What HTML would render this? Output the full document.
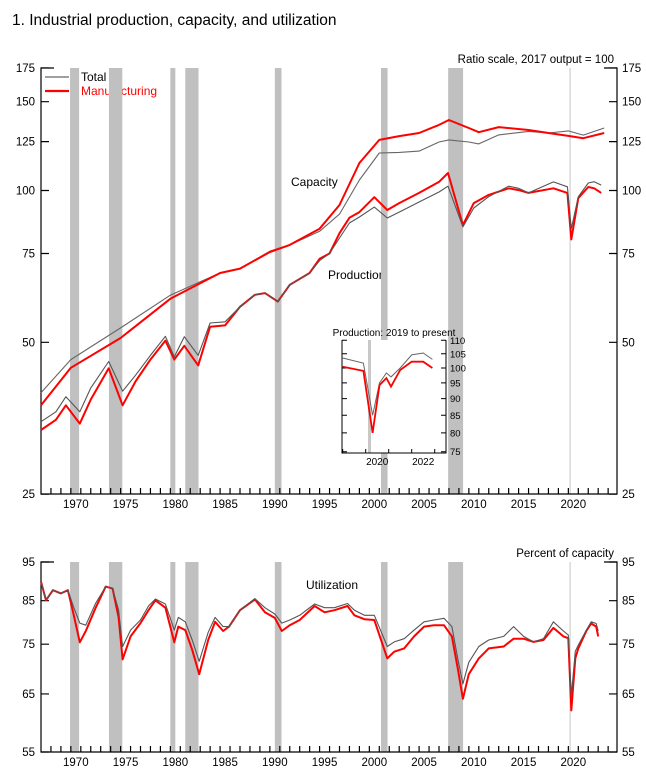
<!DOCTYPE html>
<html><head><meta charset="utf-8">
<style>
body{margin:0;background:#fff;width:646px;height:773px;overflow:hidden;font-family:"Liberation Sans",Arial,sans-serif;}
svg text{font-family:"Liberation Sans",Arial,sans-serif;}
</style></head>
<body>
<svg id="chart" width="646" height="773" xmlns="http://www.w3.org/2000/svg">
<text x="12" y="25" font-size="15.5" fill="#000">1.  Industrial production, capacity, and utilization</text>
<text x="614" y="63" font-size="11.5" text-anchor="end">Ratio scale, 2017 output = 100</text>
<text x="614" y="557" font-size="11.5" text-anchor="end">Percent of capacity</text>
<g>
<line x1="45" y1="77" x2="69" y2="77" stroke="#666" stroke-width="1.2"/>
<text x="81" y="81" font-size="12">Total</text>
<line x1="45" y1="91" x2="69" y2="91" stroke="#f00" stroke-width="2.2"/>
<text x="81" y="95" font-size="12" fill="#f00">Manufacturing</text>
</g>
<text x="291" y="186" font-size="12">Capacity</text>
<text x="328" y="279" font-size="12">Production</text>
<text x="306" y="589" font-size="12">Utilization</text>
<g id="layer"></g>
</svg>
<script>
// ---- data ----
const recessionStarts=[1969.92,1973.83,1980.0,1981.5,1990.5,2001.17,2007.92,2020.1];
const recessionEnds=[1970.83,1975.17,1980.5,1982.83,1991.17,2001.83,2009.42,2020.25];
const yearTicks=[1970,1975,1980,1985,1990,1995,2000,2005,2010,2015,2020];
const topTicks=[25,50,75,100,125,150,175];
const bottomTicks=[55,65,75,85,95];

const capYears=[1967,1970,1975,1980,1983,1985,1987,1990,1992,1995,1997,1999,2001,2003,2005,2007,2008,2010,2011,2013,2016,2018,2020,2021.5,2023.6];
const capTotal=[39.7,46.2,53.4,62,65.9,68.6,70,75.8,78,83,89.8,104.9,118.7,119,119.7,124.8,126,124.8,123.7,128.9,131,130,131.3,128.8,133];
const capMfg=[37.5,44.5,51,61,65.5,68.6,70,75.5,78,84,93.6,113.4,126,128.2,130,134.9,138,133,130.5,133.6,131.8,130,128.3,127,130];

const prodYears=[1967,1968.5,1969.5,1970.9,1972,1973.8,1975.2,1976.5,1978,1979.5,1980.4,1981.4,1982.8,1984,1985.5,1987,1988.5,1989.5,1990.8,1992,1994,1995,1996,1997,1998,1999,2000.5,2001.8,2003,2005,2007,2007.9,2009.4,2010.5,2012,2014,2015,2016,2018.5,2019.9,2020.3,2021,2022,2022.6,2023.3];
const prodTotal=[34.8,36.4,39,36.4,40.6,45.8,40,43,47.1,51.4,46.8,51.3,47.1,54.6,54.9,58.8,62.1,62.6,60.2,65,68.6,72.6,75,80.5,86.2,88.6,92.7,88.2,90.6,94.9,99.3,102,84.7,92.3,97.2,102,101,98.9,104,101.7,84,97.2,103.5,104.1,102.5];
const prodMfg=[33.5,35.1,37.5,34.5,38.5,44.4,37.5,41.8,46.2,50.4,46.2,49.2,45,53.7,54,58.8,62.1,62.6,60.2,65,68.6,73.2,75,82.3,88.3,90.6,97,91.5,94.4,98.9,104,108.3,85.4,94.4,98,101,100.2,98.9,101,98.9,80,96.6,101.6,101,98.9];

const utilYears=[1967,1967.5,1968.2,1969,1969.7,1970.3,1970.9,1971.5,1972.5,1973.5,1974.2,1974.8,1975.2,1976,1977,1977.8,1978.5,1979.5,1980.4,1980.8,1981.5,1982.2,1982.9,1983.8,1984.5,1985.3,1985.9,1987,1988.5,1989.5,1990.5,1991.2,1992,1993,1994.5,1995.5,1996.5,1997.8,1998.5,1999.5,2000.5,2001.8,2002.5,2003.5,2004.5,2005.5,2006.5,2007.5,2008.3,2008.9,2009.4,2010,2011,2012,2013.5,2014.5,2015.5,2016.5,2017.5,2018.5,2019.5,2020.0,2020.3,2020.7,2021,2021.8,2022.3,2022.8,2023.0];
const utilTotal=[89.8,85.1,87.6,86.8,87.6,83.3,79.7,79.2,84.4,88.5,88,82.7,74.5,78.1,80.4,83.7,85.4,84.2,78.1,81,80,75.9,71.4,77.6,81,78.9,78.9,82.7,85.5,83.3,81.8,79.7,80.4,81.5,84.2,83.3,83.3,84.3,82.7,81.5,81.5,74.5,75.5,76.2,78.1,80,80.4,80.8,78.9,71.8,66.9,71.2,74.5,75.9,76.7,78.9,76.7,75.5,76.2,80,77.9,77,64.6,73.5,74.8,78.1,80,79.6,77.9];
const utilMfg=[89.8,85.1,87.6,86.8,87.6,81.5,75.4,77.9,83.3,88.5,88,81,71.8,76.7,79.7,82.7,85.1,83.3,75.4,78.9,78.1,73.8,68.8,75.9,80,77.9,78.9,82.7,85.3,82.2,80.9,77.9,79.2,80.4,83.7,82.2,82.7,83.7,81.5,80.6,80.4,72,73.4,74.1,76.7,78.9,79.2,79.2,76.7,69.8,64.1,68.8,72,74.1,74.5,76.2,76.2,75.5,75.9,78.6,76.7,76.3,62,72,74.1,77.9,79.6,78.9,76.7];

const insetYears=[2019.0,2019.9,2020.3,2020.6,2020.9,2021.1,2021.5,2022,2022.5,2022.9];
const insetTotal=[103.5,101.7,85,95,98.3,97,100,104.6,105.3,103];
const insetMfg=[100.4,99,80,94.3,96.6,93.8,99.3,102.2,102.2,100];
const insetTicks=[75,80,85,90,95,100,105,110];
const insetYearTicks=[2020,2022];

// ---- scales ----
const X0=41,X1=617;
const xS=t=>X0+(t-1967)*9.95;
const yTop=v=>190.5-219*Math.log(v/100);
const yBot=v=>562+347.7*Math.log(95/v);
const xI=t=>368+(t-2020.1)*23;
const yI=v=>368-291*Math.log(v/100);

const NS="http://www.w3.org/2000/svg";
const layer=document.getElementById('layer');
function mk(tag,attrs,parent){const e=document.createElementNS(NS,tag);for(const k in attrs)e.setAttribute(k,attrs[k]);(parent||layer).appendChild(e);return e;}
function pathD(xs,ys,fx,fy){return xs.map((t,i)=>(i?'L':'M')+fx(t).toFixed(1)+','+fy(ys[i]).toFixed(1)).join('');}

// recession bars
[[68,494],[562,752]].forEach((r,pi)=>{
  recessionStarts.forEach((s,i)=>{
    const x=xS(s),w=Math.max(xS(recessionEnds[i])-x,1.5);
    const b=mk('rect',{x:x,y:r[0],width:w,height:r[1]-r[0],fill:i===7?'#d9d9d9':'#c0c0c0'});
    
    
  });
});

// axes
function axes(yt,yb,ticks,fy,panel){
  const g=mk('g',{stroke:'#000','stroke-width':1.2,fill:'none'});
  
  
  mk('path',{d:`M${X0+13},${yt}H${X0}V${yb}H${X1}V${yt}H${X1-13}`},g);
  ticks.forEach(v=>{const y=fy(v);mk('path',{d:`M${X0},${y}h8M${X1},${y}h-8`},g);
    const l=mk('text',{x:35,y:y+4,'font-size':11.5,'text-anchor':'end',fill:'#000',stroke:'none'});l.textContent=v;
    
    
    const r=mk('text',{x:622,y:y+4,'font-size':11.5,fill:'#000',stroke:'none'});r.textContent=v;
    
    
  });
  for(let yr=1968;yr<=2024;yr++){mk('path',{d:`M${xS(yr)},${yb}v-6`},g);}
  yearTicks.forEach(yr=>{const t=mk('text',{x:xS(yr+0.5),y:yb+14,'font-size':11.5,'text-anchor':'middle',fill:'#000',stroke:'none'});t.textContent=yr;
    
    });
}
axes(68,494,topTicks,yTop,'top');
axes(562,752,bottomTicks,yBot,'bottom');

function line(xs,ys,fx,fy,color,w,name){const p=mk('path',{d:pathD(xs,ys,fx,fy),stroke:color,'stroke-width':w,fill:'none','stroke-linejoin':'round'});
  
  }
line(capYears,capTotal,xS,yTop,'#666',1.1,'capacity-total-line');
line(capYears,capMfg,xS,yTop,'#f00',2,'capacity-manufacturing-line');
line(prodYears,prodMfg,xS,yTop,'#f00',2,'production-manufacturing-line');
line(prodYears,prodTotal,xS,yTop,'#555',1.1,'production-total-line');
line(utilYears,utilMfg,xS,yBot,'#f00',2,'utilization-manufacturing-line');
line(utilYears,utilTotal,xS,yBot,'#555',1.1,'utilization-total-line');

// inset
const ig=mk('g',{});


mk('rect',{x:342,y:340,width:104,height:113,fill:'#fff'},ig);
const ib=mk('rect',{x:xI(2020.1),y:340,width:3,height:113,fill:'#c8c8c8'},ig);


mk('path',{d:'M342,340V453H446V340',stroke:'#000','stroke-width':1,fill:'none'},ig);
insetTicks.forEach(v=>{const y=yI(v);mk('path',{d:`M342,${y}h5M446,${y}h-5`,stroke:'#000','stroke-width':1},ig);
  const t=mk('text',{x:450,y:y+3.5,'font-size':9.5},ig);t.textContent=v;
  
  });
for(let yr=2019;yr<=2023;yr++){mk('path',{d:`M${xI(yr)},453v-4`,stroke:'#000','stroke-width':1},ig);}
insetYearTicks.forEach(yr=>{const t=mk('text',{x:xI(yr+0.5),y:465,'font-size':10,'text-anchor':'middle'},ig);t.textContent=yr;
  
  });
const it=mk('text',{x:394,y:336,'font-size':10,'text-anchor':'middle'},ig);it.textContent='Production: 2019 to present';


const p1=mk('path',{d:pathD(insetYears,insetTotal,xI,yI),stroke:'#666','stroke-width':1,fill:'none'},ig);


const p2=mk('path',{d:pathD(insetYears,insetMfg,xI,yI),stroke:'#f00','stroke-width':1.8,fill:'none'},ig);


</script>
</body></html>
